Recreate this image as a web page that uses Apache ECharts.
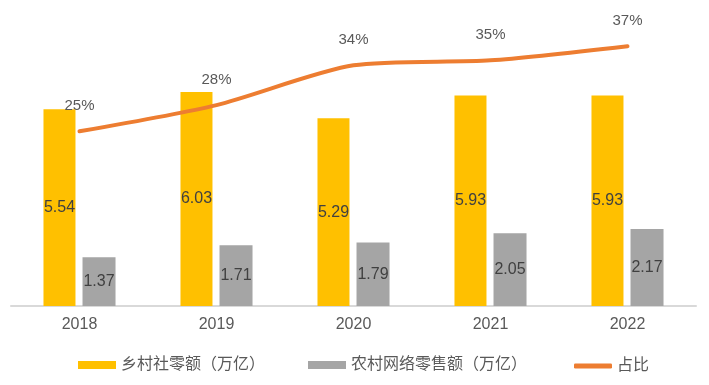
<!DOCTYPE html>
<html><head><meta charset="utf-8">
<script src="https://cdn.jsdelivr.net/npm/echarts@6/dist/echarts.min.js"></script>
<style>html,body{margin:0;padding:0;background:#fff}#c{width:709px;height:385px}</style>
</head><body><div id="c"></div>
<script>
const categories = ['2018','2019','2020','2021','2022'];
const ruralRetail = [5.54, 6.03, 5.29, 5.93, 5.93];
const ruralOnline = [1.37, 1.71, 1.79, 2.05, 2.17];
const share = [0.246, 0.283, 0.339, 0.346, 0.366];
const names = ['乡村社零额（万亿）', '农村网络零售额（万亿）', '占比'];

const FONT = '"Liberation Sans", "Noto Sans CJK SC", sans-serif';
const chart = echarts.init(document.getElementById('c'));
const legendBase = {top: 352, itemWidth: 38, itemHeight: 8, itemGap: 0,
  textStyle: {fontSize: 16, color: '#595959', fontFamily: FONT, padding: [0,0,0,0]}};
chart.setOption({
  animation: false,
  grid: {left: 11, right: 13, top: 22, bottom: 79},
  legend: [
    Object.assign({}, legendBase, {left: 73, data: [{name: names[0], icon: 'rect'}]}),
    Object.assign({}, legendBase, {left: 303, data: [{name: names[1], icon: 'rect'}]}),
    Object.assign({}, legendBase, {left: 569, itemHeight: 5, top: 353,
      data: [{name: names[2], icon: 'roundRect', itemStyle: {color: '#ED7D31'}}]})
  ],
  xAxis: {type: 'category', data: categories,
    axisLine: {lineStyle: {color: '#D9D9D9', width: 2}},
    axisTick: {show: false},
    axisLabel: {fontSize: 16, color: '#595959', fontFamily: FONT, margin: 11}},
  yAxis: [
    {type: 'value', min: 0, max: 8, show: false, splitLine: {show: false}},
    {type: 'value', min: 0, max: 0.4, show: false, splitLine: {show: false}}
  ],
  series: [
    {name: names[0], type: 'bar', data: ruralRetail, barWidth: 32, barGap: '22%',
     itemStyle: {color: '#FFC000'},
     label: {show: true, position: 'inside', fontSize: 16, color: '#404040', fontFamily: FONT}},
    {name: names[1], type: 'bar', data: ruralOnline, barWidth: 33,
     itemStyle: {color: '#A5A5A5'},
     label: {show: true, position: 'inside', fontSize: 16, color: '#404040', fontFamily: FONT}},
    {name: names[2], type: 'line', yAxisIndex: 1, data: share, smooth: 0.25,
     symbol: 'circle', symbolSize: 0.1, itemStyle: {color: '#ED7D31'},
     lineStyle: {color: '#ED7D31', width: 4, cap: 'round'},
     label: {show: true, position: 'top', distance: 18, fontSize: 15, color: '#595959', fontFamily: FONT,
       formatter: p => Math.round(p.value * 100) + '%'}}
  ]
});
</script></body></html>
